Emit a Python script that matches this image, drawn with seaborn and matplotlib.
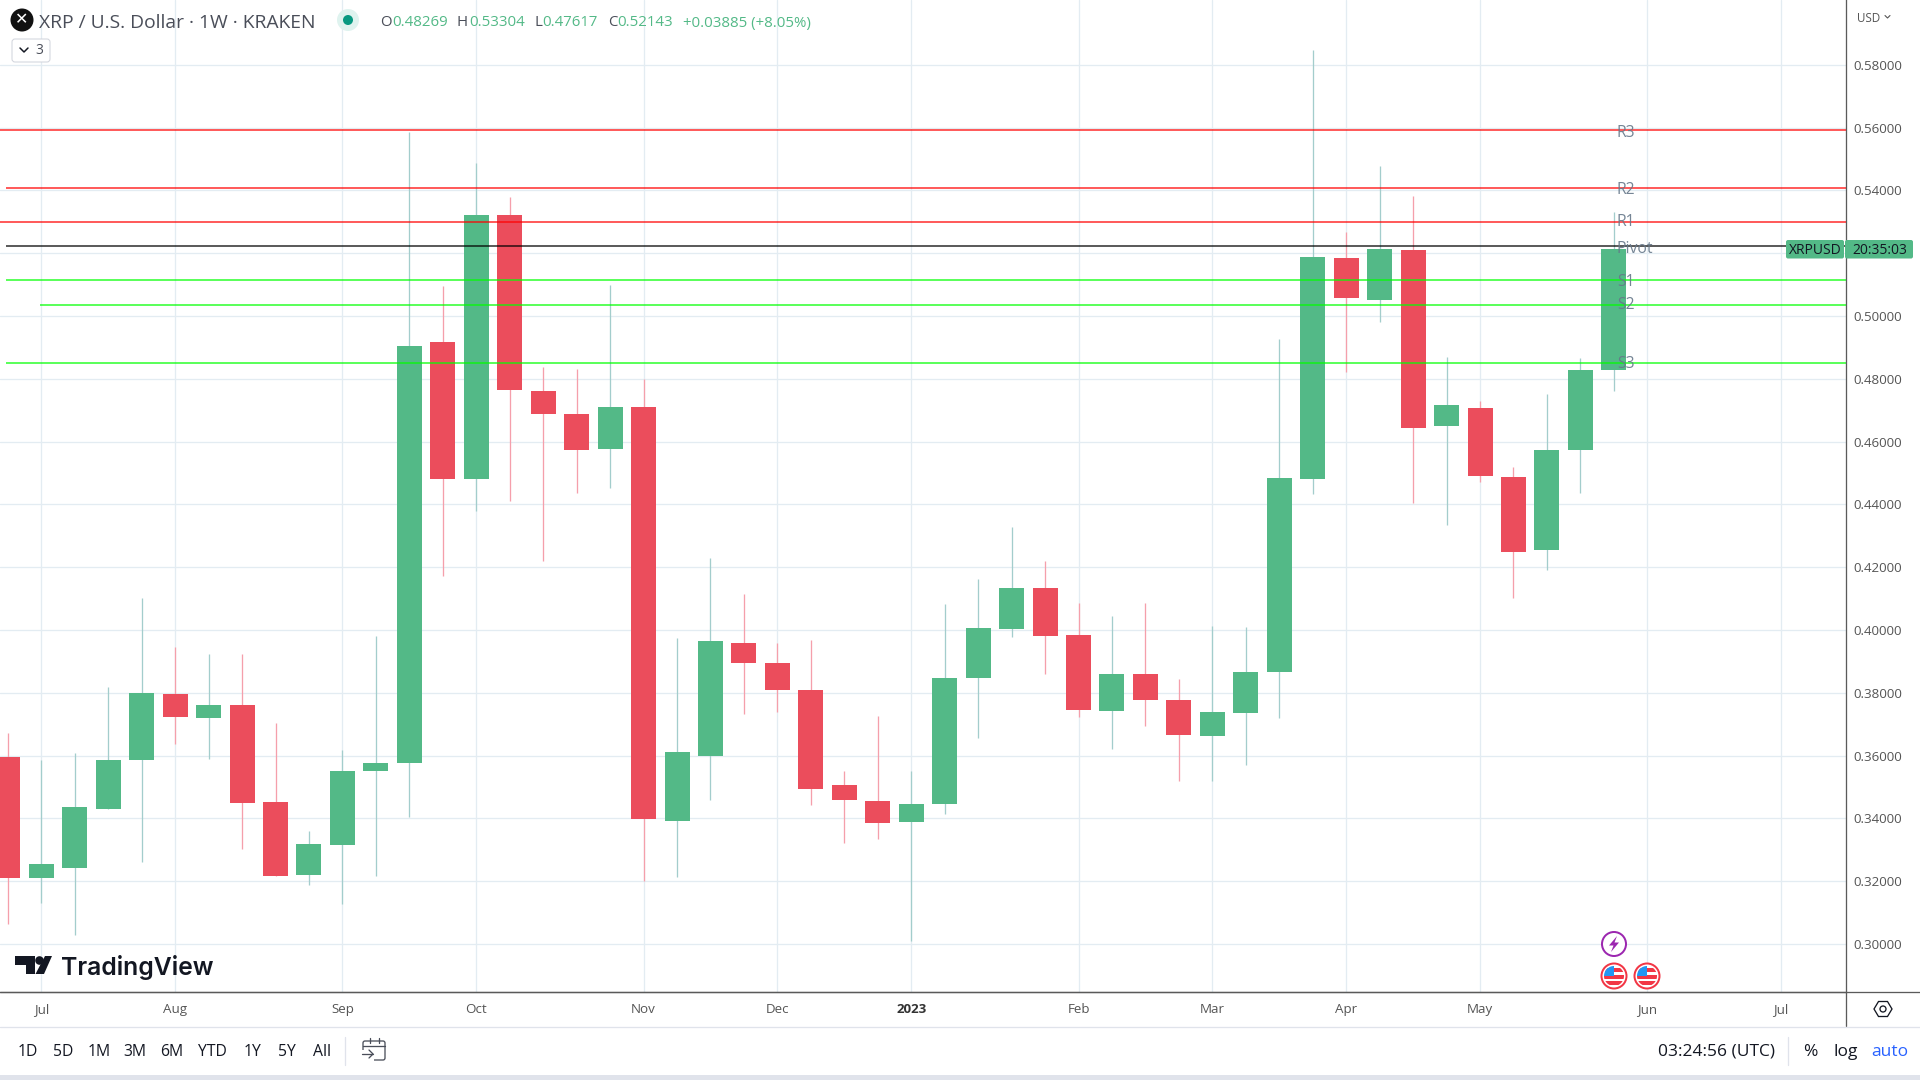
import numpy as np
import pandas as pd
import seaborn as sns
import matplotlib
matplotlib.use("Agg")
import matplotlib.pyplot as plt
from matplotlib.patches import Circle, FancyBboxPatch, Polygon, Rectangle

# weekly candles
OPEN = [0.3595, 0.3210, 0.3241, 0.3429, 0.3585, 0.3795, 0.3719, 0.3760, 0.3451, 0.3219,
        0.3315, 0.3550, 0.3575, 0.4917, 0.4481, 0.5321, 0.4761, 0.4688, 0.4577, 0.4710,
        0.3393, 0.3600, 0.3960, 0.3896, 0.3810, 0.3505, 0.3457, 0.3387, 0.3447, 0.3848,
        0.4004, 0.4135, 0.3985, 0.3743, 0.3861, 0.3778, 0.3664, 0.3737, 0.3867, 0.4482,
        0.5185, 0.5051, 0.5211, 0.4651, 0.4706, 0.4486, 0.4254, 0.4575, 0.48269]
HIGH = [0.3671, 0.3585, 0.3607, 0.3818, 0.4101, 0.3945, 0.3923, 0.3923, 0.3703, 0.3359,
        0.3617, 0.3980, 0.5586, 0.5095, 0.5487, 0.5379, 0.4838, 0.4831, 0.5099, 0.4798,
        0.3976, 0.4230, 0.4116, 0.3960, 0.3969, 0.3552, 0.3727, 0.3552, 0.4084, 0.4163,
        0.4329, 0.4221, 0.4087, 0.4046, 0.4087, 0.3845, 0.4014, 0.4011, 0.4927, 0.5847,
        0.5268, 0.5478, 0.5382, 0.4871, 0.4728, 0.4518, 0.4753, 0.4865, 0.53304]
LOW = [0.3063, 0.3130, 0.3028, 0.3429, 0.3260, 0.3636, 0.3588, 0.3302, 0.3216, 0.3187,
       0.3127, 0.3216, 0.3403, 0.4173, 0.4379, 0.4411, 0.4221, 0.4437, 0.4453, 0.3202,
       0.3212, 0.3460, 0.3731, 0.3740, 0.3444, 0.3323, 0.3336, 0.3011, 0.3415, 0.3657,
       0.3979, 0.3861, 0.3724, 0.3622, 0.3695, 0.3520, 0.3520, 0.3571, 0.3721, 0.4432,
       0.4822, 0.4981, 0.4406, 0.4333, 0.4470, 0.4101, 0.4190, 0.4435, 0.47617]
CLOSE = [0.3210, 0.3254, 0.3436, 0.3585, 0.3798, 0.3722, 0.3760, 0.3448, 0.3216, 0.3318,
         0.3550, 0.3576, 0.4905, 0.4481, 0.5321, 0.4764, 0.4688, 0.4573, 0.4710, 0.3399,
         0.3610, 0.3966, 0.3896, 0.3810, 0.3495, 0.3460, 0.3384, 0.3447, 0.3848, 0.4007,
         0.4135, 0.3982, 0.3746, 0.3861, 0.3778, 0.3667, 0.3740, 0.3867, 0.4485, 0.5188,
         0.5058, 0.5214, 0.4644, 0.4718, 0.4492, 0.4250, 0.4572, 0.4827, 0.52143]
LAST_CHANGE = 0.03885
LAST_CHANGE_PCT = 8.05

LEVEL_NAMES = ["R3", "R2", "R1", "Pivot", "S1", "S2", "S3"]
LEVEL_VALUES = [0.5594, 0.5408, 0.5300, 0.5223, 0.5115, 0.5036, 0.4851]
LEVEL_START = [-1, -0.055, -1, -0.055, -0.055, 0.95, -0.055]
LEVEL_COLORS = ["#FF0000", "#FF0000", "#FF0000", "#000000", "#00FF00", "#00FF00", "#00FF00"]
LEVEL_NUDGE = [-3, -2, 0, -3, -2, 0, -1]

PRICE_TICKS = [0.30, 0.32, 0.34, 0.36, 0.38, 0.40, 0.42, 0.44, 0.46, 0.48, 0.50, 0.52, 0.54, 0.56, 0.58]
MONTH_WEEKS = [1, 5, 10, 14, 19, 23, 27, 32, 36, 40, 44, 49, 53]
MONTH_LABELS = ["Jul", "Aug", "Sep", "Oct", "Nov", "Dec", "2023", "Feb", "Mar", "Apr", "May", "Jun", "Jul"]
RANGES = ["1D", "5D", "1M", "3M", "6M", "YTD", "1Y", "5Y", "All"]
RANGE_X = [27.7, 62.7, 99, 135, 171.7, 212.7, 253, 287, 321.7]

UP = "#53B987"
DOWN = "#EB4D5C"
UP_WICK = "#A3CDCC"
DOWN_WICK = "#F59FAB"
GRID = "#E3ECF2"
AXIS = "#5A5A5A"
TEXT = "#131722"
TICK_TEXT = "#555555"
PX = 0.72  # one pixel in points at dpi 100

sns.set_theme(style="whitegrid", rc={
    "axes.edgecolor": AXIS,
    "grid.color": GRID,
    "grid.linewidth": 1.3 * PX,
    "axes.axisbelow": True,
})
plt.rcParams["font.family"] = ["Open Sans", "DejaVu Sans"]

candles = pd.DataFrame({"week": range(len(OPEN)), "open": OPEN, "high": HIGH, "low": LOW, "close": CLOSE})
candles["bottom"] = candles[["open", "close"]].min(axis=1)
candles["body"] = (candles["close"] - candles["open"]).abs()
candles["up"] = candles["close"] >= candles["open"]

fig = plt.figure(figsize=(19.2, 10.8), dpi=100, facecolor="white")
ax = fig.add_axes([0, 88 / 1080, 1845.7 / 1920, 992 / 1080])

for is_up, color, wick in [(True, UP, UP_WICK), (False, DOWN, DOWN_WICK)]:
    part = candles[candles["up"] == is_up]
    ax.vlines(part["week"], part["low"], part["high"], color=wick, lw=1.3 * PX, zorder=2)
    sns.barplot(data=part, x="week", y="body", bottom=part["bottom"].values, native_scale=True,
                color=color, saturation=1, width=0.747, linewidth=0, errorbar=None, ax=ax, zorder=3)

for value, start, color in zip(LEVEL_VALUES, LEVEL_START, LEVEL_COLORS):
    ax.hlines(value, start, 60, color=color, alpha=0.64, lw=2 * PX, zorder=4)

for name, value, nudge in zip(LEVEL_NAMES, LEVEL_VALUES, LEVEL_NUDGE):
    ax.annotate(name, (48.09, value), xytext=(0, nudge * PX), textcoords="offset points",
                color="#66788A", alpha=0.9, fontsize=11.3, va="center", ha="left", zorder=5)

ax.set_xlim(-0.2346, 54.93)
ax.set_ylim(0.28471, 0.60067)
ax.set_xlabel("")
ax.set_ylabel("")
ax.set_xticks(MONTH_WEEKS)
ax.set_xticklabels(MONTH_LABELS)
ax.set_yticks(PRICE_TICKS)
# the price tag covers 0.52000
ax.set_yticklabels(["" if p == 0.52 else "{0:.5f}".format(p) for p in PRICE_TICKS])
ax.yaxis.tick_right()
ax.grid(True, axis="both")
ax.tick_params(axis="y", length=0, pad=5.5, labelsize=9.6, labelcolor=TICK_TEXT)
ax.tick_params(axis="x", length=0, pad=8, labelsize=9.6, labelcolor=TICK_TEXT)
ax.get_xticklabels()[6].set_fontweight("bold")
ax.get_xticklabels()[6].set_color("#333333")
for side in ["top", "left"]:
    ax.spines[side].set_visible(False)
for side in ["right", "bottom"]:
    ax.spines[side].set_linewidth(1.3 * PX)

# everything around the plot, in pixel coordinates
ui = fig.add_axes([0, 0, 1, 1], zorder=10)
ui.set_xlim(0, 1920)
ui.set_ylim(1080, 0)
ui.axis("off")
ui.patch.set_alpha(0)


def label(x, y, s, color=TEXT, size=10.5, ha="left", **kw):
    ui.text(x, y, s, color=color, fontsize=size, ha=ha, va="center", **kw)


ui.plot([1845.7, 1845.7], [992, 1026], color=AXIS, lw=1.3 * PX)
ui.plot([0, 1920], [992, 992], color=AXIS, lw=1.3 * PX)
ui.plot([0, 1920], [1026.7, 1026.7], color="#E0E3EB", lw=1.3 * PX)
ui.add_patch(Rectangle((0, 1075), 1920, 5, color="#E0E3EB", lw=0))
ui.plot([345, 345], [1037, 1065], color="#E0E3EB", lw=1.3 * PX)
ui.plot([1788, 1788], [1037, 1065], color="#E0E3EB", lw=1.3 * PX)

# header
ui.add_patch(Circle((22, 20), 11.5, color="#111111", lw=0))
label(22, 20, "✕", color="white", size=11.5, ha="center", family=["DejaVu Sans"])
label(39, 23, "XRP / U.S. Dollar · 1W · KRAKEN", color="#4A4E59", size=13.9)
ui.add_patch(Circle((348, 20), 11, color="#DFF3EF", lw=0))
ui.add_patch(Circle((348, 20), 5, color="#089981", lw=0))
last_open, last_high, last_low, last_close = OPEN[-1], HIGH[-1], LOW[-1], CLOSE[-1]
for x, letter, vx, value in [(380, "O", 392, last_open), (456, "H", 469.5, last_high),
                             (534, "L", 542.5, last_low), (608.5, "C", 617.7, last_close)]:
    label(x, 23, letter, color="#4A4E59", size=10.8)
    label(vx, 23, "{0:.5f}".format(value), color=UP, size=10.8)
label(683, 23, "{0:+.5f} ({1:+.2f}%)".format(LAST_CHANGE, LAST_CHANGE_PCT), color=UP, size=10.8)
ui.add_patch(FancyBboxPatch((12, 39), 38, 23, boxstyle="round,pad=0,rounding_size=3",
                            fc="white", ec="#D1D4DC", lw=PX))
ui.plot([20, 24, 28], [48, 52, 48], color=TEXT, lw=1.5 * PX)
label(35, 50, "3", color="#4A4E59", size=10)
label(1857, 18, "USD", color=TICK_TEXT, size=8.4)
ui.plot([1885, 1887.5, 1890], [15.5, 18, 15.5], color=TICK_TEXT, lw=1.1 * PX)

# price tag
ui.add_patch(FancyBboxPatch((1786, 240), 58, 18.5, boxstyle="round,pad=0,rounding_size=2", fc=UP, ec="none"))
ui.add_patch(FancyBboxPatch((1845, 240), 68, 18.5, boxstyle="round,pad=0,rounding_size=2", fc=UP, ec="none"))
label(1815, 250.5, "XRPUSD", size=10, ha="center")
label(1879.5, 250.5, "20:35:03", size=10, ha="center")

# logo
ui.add_patch(Polygon([(15, 956), (35, 956), (35, 974), (26, 974), (26, 965), (15, 965)], color=TEXT, lw=0))
ui.add_patch(Circle((39.5, 960.5), 4.3, color=TEXT, lw=0))
ui.add_patch(Polygon([(45, 956), (52, 956), (44, 974), (35.5, 974)], color=TEXT, lw=0))
ui.text(61, 967, "TradingView", color=TEXT, fontsize=17.8, family=["Inter"], fontweight="semibold",
        ha="left", va="center")

# event icons
ui.add_patch(Circle((1614, 944), 12, fc="white", ec="#9C27B0", lw=2 * PX))
ui.add_patch(Polygon([(1617, 936), (1609, 945.5), (1613.5, 945.5), (1611, 952), (1619, 942.5), (1614.5, 942.5)],
                     color="#9C27B0", lw=0))
for cx in [1614, 1647]:
    ui.add_patch(Circle((cx, 976), 12.5, fc="white", ec="#F23645", lw=2 * PX))
    clip = Circle((cx, 976), 10, transform=ui.transData)
    for r in [Rectangle((cx - 11, 968), 22, 3.5, color="#F23645", lw=0),
              Rectangle((cx - 11, 975), 22, 3.5, color="#F23645", lw=0),
              Rectangle((cx - 11, 981), 22, 4, color="#F23645", lw=0),
              Rectangle((cx - 11, 966), 11, 10, color="#2196F3", lw=0)]:
        ui.add_patch(r)
        r.set_clip_path(clip)

# settings hexagon
ui.add_patch(Polygon([(1874, 1009), (1878.5, 1001.5), (1887.5, 1001.5), (1892, 1009), (1887.5, 1016.5), (1878.5, 1016.5)],
                     fc="none", ec=TEXT, lw=1.3 * PX))
ui.add_patch(Circle((1883, 1009), 3, fc="none", ec=TEXT, lw=1.3 * PX))

# bottom toolbar
for x, s in zip(RANGE_X, RANGES):
    label(x, 1052, s, size=11.3, ha="center")
ui.add_patch(FancyBboxPatch((363, 1041), 22, 19, boxstyle="round,pad=0,rounding_size=2", fc="none", ec="#4A4E59", lw=1.3 * PX))
ui.add_patch(Rectangle((362, 1050), 12, 12, color="white", lw=0))
ui.plot([363, 385], [1046, 1046], color="#4A4E59", lw=1.3 * PX)
ui.plot([370, 370], [1038, 1043], color="#4A4E59", lw=1.3 * PX)
ui.plot([379, 379], [1038, 1043], color="#4A4E59", lw=1.3 * PX)
ui.plot([362, 373], [1054, 1054], color="#4A4E59", lw=1.3 * PX)
ui.plot([369, 373, 369], [1050, 1054, 1058], color="#4A4E59", lw=1.3 * PX)
label(1716, 1052, "03:24:56 (UTC)", size=12.5, ha="center")
label(1810, 1052, "%", size=12.5, ha="center")
label(1846, 1052, "log", size=12.5, ha="center")
label(1890, 1052, "auto", color="#2962FF", size=12.5, ha="center")

fig.savefig("out.png", dpi=100)
